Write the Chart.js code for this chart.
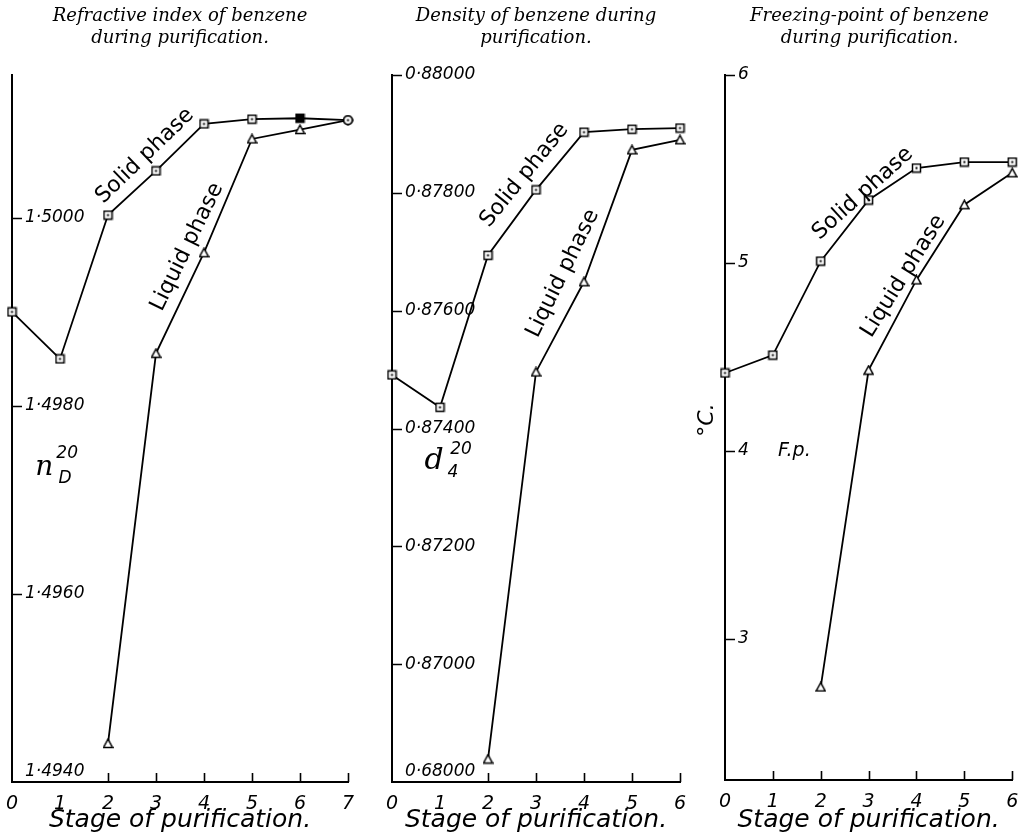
<!DOCTYPE html>
<html>
<head>
<meta charset="utf-8">
<script src="https://cdn.jsdelivr.net/npm/chart.js@4/dist/chart.umd.min.js"></script>
<style>
  html, body { margin: 0; padding: 0; background: #fff; overflow: hidden; }
  .panel { position: absolute; top: 0; }
</style>
</head>
<body>
<div class="panel" style="left:0px"><canvas id="refractive" width="360" height="835"></canvas></div>
<div class="panel" style="left:372px"><canvas id="density" width="320" height="835"></canvas></div>
<div class="panel" style="left:690px"><canvas id="freezing" width="329" height="835"></canvas></div>
<script>
// refractive index n20/D
const refStages = [0, 1, 2, 3, 4, 5, 6, 7];
const refSolid = [1.49900, 1.49850, 1.50003, 1.50050, 1.50100, 1.50105, 1.50106, 1.50104];
const refLiquidStages = [2, 3, 4, 5, 6, 7];
const refLiquid = [1.49441, 1.49856, 1.49963, 1.50084, 1.50094, 1.50104];
const refTicks = [1.494, 1.496, 1.498, 1.500];
const refTickLabels = ['1·4940', '1·4960', '1·4980', '1·5000'];

// density d20/4
const denStages = [0, 1, 2, 3, 4, 5, 6];
const denSolid = [0.87491, 0.87436, 0.87694, 0.87805, 0.87903, 0.87908, 0.87910];
const denLiquidStages = [2, 3, 4, 5, 6];
const denLiquid = [0.86839, 0.87496, 0.87649, 0.87873, 0.87890];
const denTicks = [0.868, 0.870, 0.872, 0.874, 0.876, 0.878, 0.880];
const denTickLabels = ['0·68000', '0·87000', '0·87200', '0·87400', '0·87600', '0·87800', '0·88000'];

// freezing point, deg C
const fpStages = [0, 1, 2, 3, 4, 5, 6];
const fpSolid = [4.415, 4.51, 5.01, 5.335, 5.505, 5.537, 5.537];
const fpLiquidStages = [2, 3, 4, 5, 6];
const fpLiquid = [2.745, 4.43, 4.91, 5.31, 5.48];
const fpTicks = [3, 4, 5, 6];
const fpTickLabels = ['3', '4', '5', '6'];

function mark(kind) {
    const c = document.createElement('canvas');
    c.width = 11; c.height = 11;
    const g = c.getContext('2d');
    g.lineWidth = 1.5;
    g.strokeStyle = '#000';
    g.fillStyle = kind === 'filled' ? '#000' : '#fff';
    if (kind === 'square' || kind === 'filled') {
        g.fillRect(1.5, 1.5, 8, 8);
        g.strokeRect(1.5, 1.5, 8, 8);
        g.fillStyle = '#000';
        g.fillRect(4.5, 4.5, 2, 2);
    } else if (kind === 'triangle') {
        g.beginPath();
        g.moveTo(5.5, 1.2); g.lineTo(10, 9.5); g.lineTo(1, 9.5); g.closePath();
        g.fill(); g.stroke();
    } else {
        g.beginPath();
        g.arc(5.5, 5.5, 4.2, 0, Math.PI * 2);
        g.fill(); g.stroke();
        g.fillStyle = '#000';
        g.fillRect(4.5, 4.5, 2, 2);
    }
    return c;
}
const SQ = mark('square'), FSQ = mark('filled'), TRI = mark('triangle'), CIRC = mark('circle');

const sansIt = size => `italic ${size}px "DejaVu Sans"`;

// tick stubs drawn inward + text notes placed in data coordinates
const inkPlugin = {
    id: 'ink',
    afterDatasetsDraw(chart, args, opts) {
        const { ctx, chartArea: a, scales: { x, y } } = chart;
        const skip = opts.xSkip || [0];
        ctx.save();
        ctx.strokeStyle = '#000';
        ctx.lineWidth = 1.6;
        ctx.beginPath();
        y.ticks.forEach(t => {
            if (t.value === y.min) return;
            const py = Math.round(y.getPixelForValue(t.value)) + 0.5;
            ctx.moveTo(a.left, py); ctx.lineTo(a.left + 10, py);
        });
        x.ticks.forEach(t => {
            if (skip.includes(t.value)) return;
            const px = Math.round(x.getPixelForValue(t.value)) + 0.5;
            ctx.moveTo(px, a.bottom); ctx.lineTo(px, a.bottom - 9);
        });
        ctx.stroke();
        ctx.fillStyle = '#000';
        (opts.notes || []).forEach(n => {
            ctx.save();
            ctx.translate(x.getPixelForValue(n.x), y.getPixelForValue(n.y));
            ctx.rotate((n.rot || 0) * Math.PI / 180);
            ctx.textAlign = 'center';
            ctx.textBaseline = 'middle';
            ctx.font = n.font;
            ctx.fillText(n.text, 0, 0);
            if (n.sup) {
                ctx.font = n.sup.font;
                ctx.fillText(n.sup.text, n.sup.dx, n.sup.dy);
            }
            if (n.sub) {
                ctx.font = n.sub.font;
                ctx.fillText(n.sub.text, n.sub.dx, n.sub.dy);
            }
            ctx.restore();
        });
        ctx.restore();
    }
};

function panel(id, o) {
    const solidData = o.solidX.map((s, i) => ({ x: s, y: o.solid[i] }));
    const liquidData = o.liquidX.map((s, i) => ({ x: s, y: o.liquid[i] }));
    const xTicks = [];
    for (let i = 0; i <= o.xMax; i++) xTicks.push(i);
    return new Chart(document.getElementById(id), {
        type: 'line',
        data: {
            datasets: [
                {
                    label: 'Solid phase',
                    data: solidData,
                    borderColor: '#000',
                    borderWidth: 1.8,
                    pointStyle: o.solidMarks,
                    pointRadius: 5,
                    clip: false
                },
                {
                    label: 'Liquid phase',
                    data: liquidData,
                    borderColor: '#000',
                    borderWidth: 1.8,
                    pointStyle: o.liquidMarks,
                    pointRadius: 5,
                    clip: false
                }
            ]
        },
        options: {
            responsive: false,
            animation: false,
            devicePixelRatio: 1,
            layout: { padding: { left: o.padL, right: o.padR, top: 0, bottom: 0 } },
            plugins: {
                legend: { display: false },
                tooltip: { enabled: false },
                title: {
                    display: true,
                    text: o.title,
                    color: '#000',
                    font: { family: 'DejaVu Serif', style: 'italic', weight: 'normal', size: 18, lineHeight: 1.2 },
                    padding: { top: 6, bottom: 25.8 }
                },
                ink: { notes: o.notes, xSkip: o.xSkip }
            },
            scales: {
                x: {
                    type: 'linear',
                    min: 0,
                    max: o.xMax,
                    grid: { display: false },
                    border: { color: '#000', width: 2 },
                    afterBuildTicks: s => { s.ticks = xTicks.map(v => ({ value: v })); },
                    afterFit: s => { s.height = o.xAxisH; s.paddingLeft = 0; s.paddingRight = 0; },
                    ticks: { color: '#000', padding: 3, font: { family: 'DejaVu Sans', style: 'italic', size: 19 } },
                    title: {
                        display: true,
                        text: 'Stage of purification.',
                        color: '#000',
                        font: { family: 'DejaVu Sans', style: 'italic', size: 25, lineHeight: 1.2 },
                        padding: { top: 0, bottom: 0 }
                    }
                },
                y: {
                    type: 'linear',
                    min: o.yMin,
                    max: o.yMax,
                    grid: { display: false },
                    border: { color: '#000', width: 2 },
                    afterBuildTicks: s => { s.ticks = o.yTicks.map(v => ({ value: v })); },
                    afterFit: s => { s.width = 0; s.paddingTop = 0; s.paddingBottom = 0; },
                    ticks: {
                        mirror: true,
                        padding: 13,
                        color: '#000',
                        font: { family: 'DejaVu Sans', style: 'italic', size: 17 },
                        callback: (v, i) => (v === o.yMin ? [o.yLabels[i], ''] : o.yLabels[i])
                    }
                }
            }
        },
        plugins: [inkPlugin]
    });
}

const phaseFont = '22px "DejaVu Sans"';

panel('refractive', {
    title: ['Refractive index of benzene', 'during purification.'],
    solidX: refStages, solid: refSolid,
    liquidX: refLiquidStages, liquid: refLiquid,
    solidMarks: [SQ, SQ, SQ, SQ, SQ, SQ, FSQ, CIRC],
    liquidMarks: [TRI, TRI, TRI, TRI, TRI, CIRC],
    xMax: 7, yMin: 1.494, yMax: 1.50152,
    yTicks: refTicks, yLabels: refTickLabels,
    padL: 12, padR: 12, xAxisH: 53, xSkip: [0, 1],
    notes: [
        { text: 'Solid phase', x: 2.77, y: 1.50066, rot: -44, font: phaseFont },
        { text: 'Liquid phase', x: 3.65, y: 1.49969, rot: -64, font: phaseFont },
        { text: 'n', x: 0.67, y: 1.49734, font: 'italic 28px "DejaVu Serif"',
          sup: { text: '20', dx: 23, dy: -14, font: sansIt(17) },
          sub: { text: 'D', dx: 21, dy: 11, font: sansIt(17) } }
    ]
});

panel('density', {
    title: ['Density of benzene during', 'purification.'],
    solidX: denStages, solid: denSolid,
    liquidX: denLiquidStages, liquid: denLiquid,
    solidMarks: SQ,
    liquidMarks: TRI,
    xMax: 6, yMin: 0.868, yMax: 0.880,
    yTicks: denTicks, yLabels: denTickLabels,
    padL: 20, padR: 12, xAxisH: 53, xSkip: [0, 1],
    notes: [
        { text: 'Solid phase', x: 2.76, y: 0.87830, rot: -51, font: phaseFont },
        { text: 'Liquid phase', x: 3.56, y: 0.87663, rot: -64, font: phaseFont },
        { text: 'd', x: 0.875, y: 0.87345, font: 'italic 30px "DejaVu Serif"',
          sup: { text: '20', dx: 27, dy: -11, font: sansIt(17) },
          sub: { text: '4', dx: 19, dy: 12, font: sansIt(17) } }
    ]
});

panel('freezing', {
    title: ['Freezing-point of benzene', 'during purification.'],
    solidX: fpStages, solid: fpSolid,
    liquidX: fpLiquidStages, liquid: fpLiquid,
    solidMarks: SQ,
    liquidMarks: TRI,
    xMax: 6, yMin: 2.25, yMax: 6,
    yTicks: fpTicks, yLabels: fpTickLabels,
    padL: 35, padR: 5, xAxisH: 55, xSkip: [0],
    notes: [
        { text: 'Solid phase', x: 2.88, y: 5.37, rot: -42, font: phaseFont },
        { text: 'Liquid phase', x: 3.73, y: 4.93, rot: -58, font: phaseFont },
        { text: '°C.', x: -0.37, y: 4.165, rot: -90, font: sansIt(22) },
        { text: 'F.p.', x: 1.45, y: 4.0, font: sansIt(19) }
    ]
});
</script>
</body>
</html>
